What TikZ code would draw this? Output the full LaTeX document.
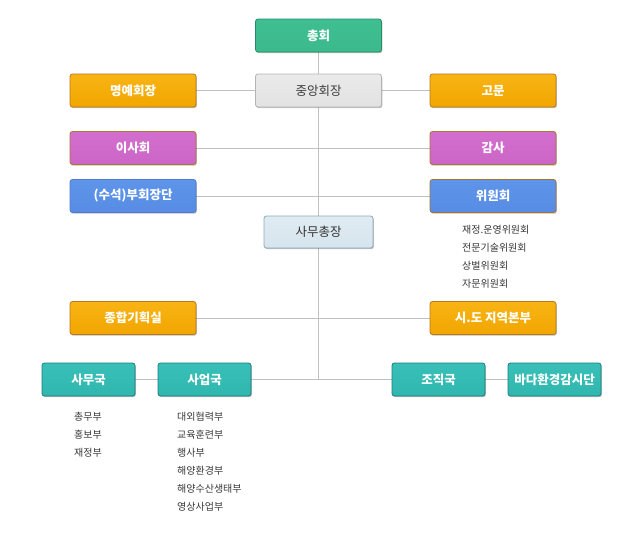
\documentclass[tikz,border=0pt]{standalone}
\usepackage{fontspec}
\setmainfont{Noto Sans CJK KR}
\usetikzlibrary{shadows,backgrounds}
\definecolor{linec}{RGB}{192,192,192}
\definecolor{txtd}{RGB}{60,60,60}
\tikzset{
  box/.style={rounded corners=2.5pt, minimum width=126pt, minimum height=33pt, inner sep=0pt,
    font=\bfseries\fontsize{12.5}{14}\selectfont, text=white, line width=0.8pt,
    drop shadow={shadow xshift=0.8pt, shadow yshift=-1.2pt, opacity=0.25, fill=black}},
  sbox/.style={box, minimum width=93pt},
  greenb/.style={draw={rgb,255:red,40;green,140;blue,105}, top color={rgb,255:red,62;green,190;blue,145}, middle color={rgb,255:red,40;green,158;blue,115}, bottom color={rgb,255:red,60;green,186;blue,142}},
  grayb/.style={draw={rgb,255:red,180;green,180;blue,180}, top color={rgb,255:red,234;green,234;blue,234}, middle color={rgb,255:red,200;green,200;blue,200}, bottom color={rgb,255:red,226;green,226;blue,226}, text=txtd, font=\fontsize{12.5}{14}\selectfont},
  orangeb/.style={draw={rgb,255:red,185;green,120;blue,30}, top color={rgb,255:red,248;green,180;blue,20}, middle color={rgb,255:red,224;green,128;blue,0}, bottom color={rgb,255:red,242;green,166;blue,0}},
  purpleb/.style={draw={rgb,255:red,170;green,120;blue,50}, top color={rgb,255:red,210;green,110;blue,206}, middle color={rgb,255:red,182;green,80;blue,178}, bottom color={rgb,255:red,204;green,102;blue,198}},
  blueb/.style={draw={rgb,255:red,80;green,125;blue,205}, top color={rgb,255:red,94;green,148;blue,234}, middle color={rgb,255:red,68;green,124;blue,214}, bottom color={rgb,255:red,88;green,140;blue,228}},
  lblueb/.style={draw={rgb,255:red,140;green,168;blue,186}, top color={rgb,255:red,224;green,236;blue,243}, middle color={rgb,255:red,184;green,204;blue,218}, bottom color={rgb,255:red,214;green,228;blue,237}, text={rgb,255:red,50;green,50;blue,50}, font=\fontsize{12.5}{14}\selectfont},
  tealb/.style={draw={rgb,255:red,28;green,125;blue,125}, top color={rgb,255:red,56;green,192;blue,184}, middle color={rgb,255:red,26;green,160;blue,152}, bottom color={rgb,255:red,48;green,182;blue,174}},
  conn/.style={draw=linec, line width=0.9pt},
  listt/.style={anchor=north west, inner sep=0pt, align=left, text={rgb,255:red,55;green,55;blue,55}, font=\fontsize{10}{18}\selectfont}
}
\begin{document}
\begin{tikzpicture}[x=1pt,y=-1pt]
\useasboundingbox (0,0) rectangle (640,533);
\node[box, greenb] (ch) at (318.5,35.5) {총회};
\node[box, grayb] (jh) at (318.5,90.5) {중앙회장};
\node[box, orangeb] (my) at (133,90.5) {명예회장};
\node[box, orangeb] (gm) at (493,90.5) {고문};
\node[box, purpleb] (is) at (133,148) {이사회};
\node[box, purpleb] (gs) at (493,148) {감사};
\node[box, blueb] (bh) at (133,196) {(수석)부회장단};
\node[box, blueb, draw={rgb,255:red,165;green,115;blue,45}] (wh) at (493,196) {위원회};
\node[box, lblueb, minimum width=109pt, minimum height=32pt] (sc) at (318.5,232) {사무총장};
\node[box, orangeb] (jg) at (133,318) {종합기획실};
\node[box, orangeb] (sd) at (493,318) {시.도 지역본부};
\node[sbox, tealb] (sm) at (88.5,379.5) {사무국};
\node[sbox, tealb] (su) at (204.5,379.5) {사업국};
\node[sbox, tealb] (jj) at (438.5,379.5) {조직국};
\node[sbox, tealb] (bd) at (554.5,379.5) {바다환경감시단};
\coordinate (tend) at (318.5,379.5);
\begin{scope}[on background layer]
\draw[conn] (ch) -- (jh);
\draw[conn] (my) -- (jh);
\draw[conn] (jh) -- (gm);
\draw[conn] (jh) -- (sc);
\draw[conn] (is) -- (gs);
\draw[conn] (bh) -- (wh);
\draw[conn] (sc) -- (tend);
\draw[conn] (jg) -- (sd);
\draw[conn] (sm) -- (su);
\draw[conn] (su) -- (jj);
\draw[conn] (jj) -- (bd);
\end{scope}
% lists
\node[listt] (l1) at (462,225) {재정.운영위원회\\전문기술위원회\\상벌위원회\\자문위원회};
\node[listt] (l2) at (74,412) {총무부\\홍보부\\재정부};
\node[listt] (l3) at (177,412) {대외협력부\\교육훈련부\\행사부\\해양환경부\\해양수산생태부\\영상사업부};
\end{tikzpicture}
\end{document}
